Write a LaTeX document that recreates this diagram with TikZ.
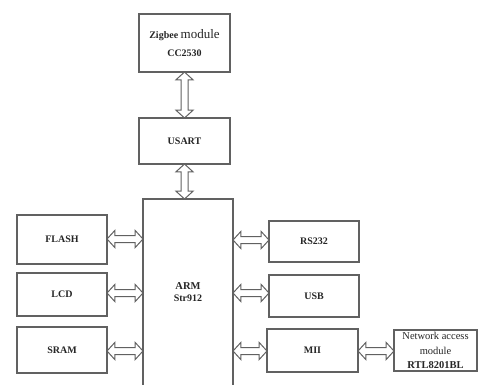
\documentclass[tikz,border=0pt]{standalone}
\usepackage{fontspec}
\setmainfont{Liberation Serif}
\usetikzlibrary{positioning,shapes.arrows}

\begin{document}
\begin{tikzpicture}[
  x=1pt, y=-1pt,
  font=\fontsize{10}{12}\selectfont\bfseries,
  blk/.style={rectangle, draw=black!62, line width=1.3pt, fill=white, text=black!85,
              inner sep=0pt, align=center},
  link/.style={double arrow, draw=black!62, line width=1pt, fill=white,
               inner sep=3pt, double arrow head extend=5pt,
               double arrow tip angle=95, sloped, minimum height=#1}
]
\useasboundingbox (0,0) rectangle (478,384);

% controller and upper chain
\node[blk, minimum width=91pt, minimum height=58pt] (zigbee) at (184.5,43)
  {Zigbee {\fontsize{13}{14}\selectfont\mdseries module}\\[6pt] CC2530};
\node[blk, minimum width=91pt, minimum height=46pt] (usart) at (184.5,141) {USART};
\node[blk, minimum width=90pt, minimum height=187pt] (arm) at (188,292.5)
  {\fontsize{10.5}{14}\selectfont ARM\\Str912};

% left side
\node[blk, minimum width=90pt, minimum height=49pt] (flash) at (62,239.5) {FLASH};
\node[blk, minimum width=90pt, minimum height=43pt] (lcd) at (62,294.5) {LCD};
\node[blk, minimum width=90pt, minimum height=46pt] (sram) at (62,350) {SRAM};

% right side
\node[blk, minimum width=90pt, minimum height=41pt] (rs232) at (314,241.5) {RS232};
\node[blk, minimum width=90pt, minimum height=42pt] (usb) at (314,296) {USB};
\node[blk, minimum width=91pt, minimum height=43pt] (mii) at (312.5,350.5) {MII};
\node[blk, minimum width=83pt, minimum height=41pt, font=\fontsize{10.5}{14.5}\selectfont\mdseries]
  (net) at (435.5,350.5) {Network access\\module\\\textbf{RTL8201BL}};

% links
\path (zigbee.south) -- (usart.north) node[midway, link=46pt] {};
\path (usart.south) -- (usart.south |- arm.north) node[midway, link=35pt] {};
\path (flash.east |- 0,239) -- (arm.west |- 0,239) node[midway, link=36pt] {};
\path (lcd.east |- 0,293) -- (arm.west |- 0,293) node[midway, link=36pt] {};
\path (sram.east |- 0,351) -- (arm.west |- 0,351) node[midway, link=36pt] {};
\path (arm.east |- 0,240) -- (rs232.west |- 0,240) node[midway, link=36pt] {};
\path (arm.east |- 0,293) -- (usb.west |- 0,293) node[midway, link=36pt] {};
\path (arm.east |- 0,351) -- (mii.west |- 0,351) node[midway, link=34pt] {};
\path (mii.east |- 0,351) -- (net.west |- 0,351) node[midway, link=36pt] {};
\end{tikzpicture}
\end{document}
